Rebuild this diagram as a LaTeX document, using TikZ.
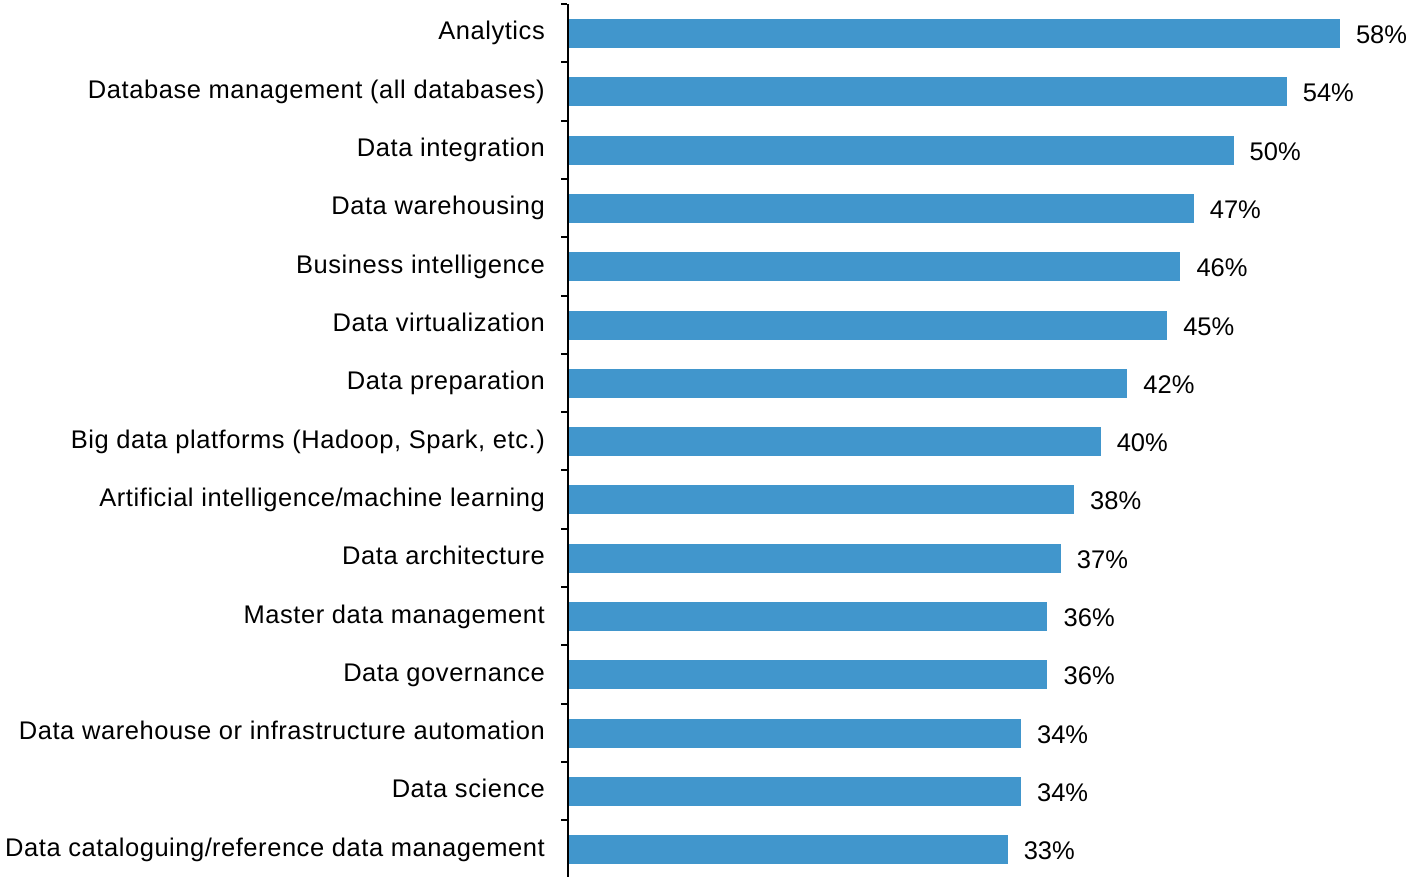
\documentclass[tikz,border=0pt]{standalone}
\usepackage{fontspec}
\setmainfont{Liberation Sans}
\newfontfamily\catfont[LetterSpace=2.2]{Liberation Sans}
\definecolor{barblue}{RGB}{65,150,204}
\begin{document}
\begin{tikzpicture}[x=1pt,y=-1pt,
  bar/.style={fill=barblue,draw=none},
  catlabel/.style={anchor=base east,inner sep=0pt,font=\catfont\fontsize{25.5}{28}\selectfont},
  vallabel/.style={anchor=base west,inner sep=0pt,font=\fontsize{25.5}{28}\selectfont},
  axisline/.style={draw=black,line width=2pt},
  tickline/.style={draw=black,line width=2pt}]
\useasboundingbox (0,0) rectangle (1410,877);
\def\xz{569}
\def\sc{13.29}
\foreach \i/\lab/\v in {0/Analytics/58,
  1/Database management (all databases)/54,
  2/Data integration/50,
  3/Data warehousing/47,
  4/Business intelligence/46,
  5/Data virtualization/45,
  6/Data preparation/42,
  7/{Big data platforms (Hadoop, Spark, etc.)}/40,
  8/Artificial intelligence\slash machine learning/38,
  9/Data architecture/37,
  10/Master data management/36,
  11/Data governance/36,
  12/Data warehouse or infrastructure automation/34,
  13/Data science/34,
  14/Data cataloguing\slash reference data management/33}{
  \pgfmathsetmacro{\yc}{33.5+58.3*\i}
  \pgfmathsetmacro{\xe}{\xz+\sc*\v}
  \path[bar] (\xz,\yc-14.5) rectangle (\xe,\yc+14.5);
  \node[catlabel] (c\i) at (545,\yc+6.5) {\lab};
  \node[vallabel] (v\i) at (\xe+16,\yc+10) {\v\%};
  \pgfmathsetmacro{\yt}{4+58.3*\i}
  \coordinate (t\i) at (\xz-2,\yt);
  \coordinate (tl\i) at (561,\yt);
  \draw[tickline] (tl\i) -- (t\i);
}
\coordinate (atop) at (567.5,4);
\coordinate (abot) at (567.5,877);
\draw[axisline] (atop) -- (abot);
\end{tikzpicture}
\end{document}
